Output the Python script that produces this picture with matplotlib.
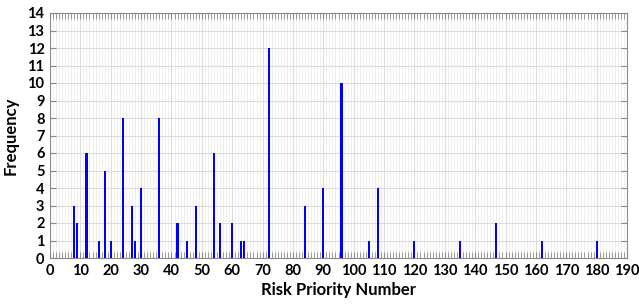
import matplotlib.pyplot as plt
from matplotlib.ticker import MultipleLocator

rpn = [8, 9, 12, 16, 18, 20, 24, 27, 28, 30, 36, 42, 45, 48, 54, 56, 60, 63, 64,
       72, 84, 90, 96, 105, 108, 120, 135, 147, 162, 180]
freq = [3, 2, 6, 1, 5, 1, 8, 3, 1, 4, 8, 2, 1, 3, 6, 2, 2, 1, 1,
        12, 3, 4, 10, 1, 4, 1, 1, 2, 1, 1]

plt.rcParams['font.family'] = ['Lato', 'DejaVu Sans']
plt.rcParams['font.weight'] = 'bold'

fig = plt.figure(figsize=(6.39, 3.05), dpi=100)
ax = fig.add_axes([50 / 639, 1 - 258 / 305, 577 / 639, 245 / 305])

ax.bar(rpn, freq, width=0.7, color='#0000ff', zorder=3)

ax.set_xlim(0, 190)
ax.set_ylim(0, 14)
ax.xaxis.set_major_locator(MultipleLocator(10))
ax.xaxis.set_minor_locator(MultipleLocator(1))
ax.yaxis.set_major_locator(MultipleLocator(1))

ax.grid(which='major', color='#dcdcdc', linewidth=0.8, zorder=0)
ax.grid(which='minor', axis='x', color='#ececec', linewidth=0.6, zorder=0)

ax.tick_params(which='both', direction='in', top=True, right=True,
               color='#8a8a8a', labelsize=10.5, pad=4)
ax.tick_params(which='major', length=4)
ax.tick_params(which='minor', length=4, width=0.6)
for s in ax.spines.values():
    s.set_color('#8a8a8a')

ax.set_xlabel('Risk Priority Number', fontsize=12, fontweight='bold', labelpad=3)
ax.set_ylabel('Frequency', fontsize=12, fontweight='bold', labelpad=6)

fig.savefig('out.png', dpi=100)
